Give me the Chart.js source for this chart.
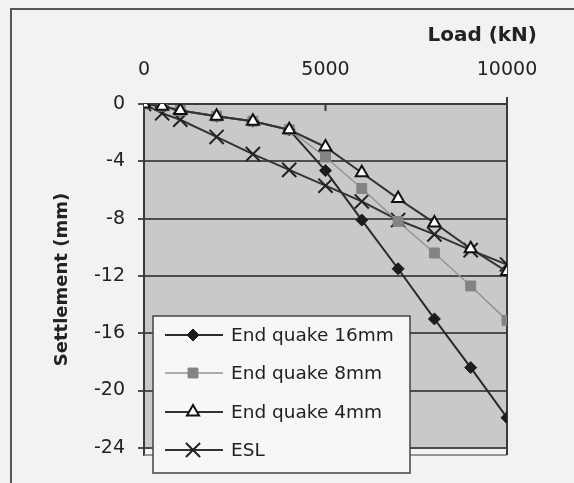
<!DOCTYPE html>
<html>
<head>
<meta charset="utf-8">
<script src="https://cdn.jsdelivr.net/npm/chart.js@4/dist/chart.umd.min.js"></script>
<style>
  body { margin: 0; background: #f2f2f2; }
  canvas { display: block; }
</style>
</head>
<body>
<canvas id="chart" width="574" height="483"></canvas>
<script>
// load (kN) on the top axis, settlement (mm) downwards
const loads = [0, 500, 1000, 2000, 3000, 4000, 5000, 6000, 7000, 8000, 9000, 10000];
const quake16 = [0, -0.15, -0.45, -0.85, -1.2, -1.8, -4.65, -8.1, -11.5, -15.0, -18.4, -21.9];
const quake8 = [0, -0.15, -0.45, -0.85, -1.2, -1.8, -3.7, -5.9, -8.2, -10.4, -12.7, -15.1];
const quake4 = [0, -0.15, -0.45, -0.85, -1.2, -1.8, -3.0, -4.8, -6.6, -8.3, -10.1, -11.7];
const esl = [0, -0.65, -1.1, -2.3, -3.5, -4.6, -5.7, -6.8, -8.1, -9.1, -10.2, -11.2];

const xTicks = [0, 5000, 10000];
const yTicks = [0, -4, -8, -12, -16, -20, -24];

const FONT = "'DejaVu Sans', 'Liberation Sans', sans-serif";
const INK = "#222";

function points(arr) {
    return loads.map((x, i) => ({ x: x, y: arr[i] }));
}

// paper, frame and grey plot area
const backdrop = {
    id: "backdrop",
    beforeDraw(chart) {
        const { ctx, chartArea: a, scales } = chart;
        ctx.save();
        ctx.fillStyle = "#f2f2f2";
        ctx.fillRect(0, 0, chart.width, chart.height);

        ctx.strokeStyle = "#555";
        ctx.lineWidth = 2;
        ctx.beginPath();
        ctx.moveTo(11, chart.height + 2);
        ctx.lineTo(11, 9);
        ctx.lineTo(chart.width + 2, 9);
        ctx.stroke();

        const yBottomFill = scales.y.getPixelForValue(-24);
        ctx.fillStyle = "#c9c9c9";
        ctx.fillRect(a.left, a.top, a.right - a.left, yBottomFill - a.top);
        ctx.restore();
    },
    beforeDatasetsDraw(chart) {
        const { ctx, chartArea: a, scales } = chart;
        ctx.save();
        ctx.strokeStyle = "#777";
        ctx.lineWidth = 1.5;
        ctx.beginPath();
        ctx.moveTo(a.left, a.bottom);
        ctx.lineTo(a.right, a.bottom);
        ctx.stroke();

        ctx.strokeStyle = "#3a3a3a";
        ctx.lineWidth = 2;
        ctx.beginPath();
        ctx.moveTo(a.right, a.top - 7);
        ctx.lineTo(a.right, a.bottom);
        const x5 = scales.x.getPixelForValue(5000);
        ctx.moveTo(x5, a.top);
        ctx.lineTo(x5, a.top + 7);
        ctx.stroke();
        ctx.restore();
    }
};

// boxed legend sitting over the lower left of the plot, plus the load title
const boxLegend = {
    id: "boxLegend",
    afterDraw(chart) {
        const { ctx } = chart;
        ctx.save();
        ctx.fillStyle = "#f7f7f7";
        ctx.fillRect(153, 316, 257, 157);
        ctx.strokeStyle = "#444";
        ctx.lineWidth = 1.5;
        ctx.strokeRect(153, 316, 257, 157);

        const rows = [335, 373, 412, 450];
        chart.data.datasets.forEach((ds, i) => {
            const y = rows[i];
            ctx.strokeStyle = ds.borderColor;
            ctx.lineWidth = ds.borderWidth;
            ctx.beginPath();
            ctx.moveTo(165, y);
            ctx.lineTo(223, y);
            ctx.stroke();

            ctx.fillStyle = ds.pointBackgroundColor;
            ctx.strokeStyle = ds.pointBorderColor;
            ctx.lineWidth = ds.pointBorderWidth;
            Chart.helpers.drawPoint(ctx, {
                pointStyle: ds.pointStyle,
                radius: ds.pointRadius,
                borderWidth: ds.pointBorderWidth,
                rotation: 0
            }, 193, y);

            ctx.fillStyle = INK;
            ctx.font = "18.5px " + FONT;
            ctx.textAlign = "left";
            ctx.textBaseline = "middle";
            ctx.fillText(ds.label, 231, y + 1);
        });

        ctx.font = "bold 20px " + FONT;
        ctx.textAlign = "right";
        ctx.textBaseline = "middle";
        ctx.fillStyle = INK;
        ctx.fillText("Load (kN)", 537, 36);
        ctx.restore();
    }
};

new Chart(document.getElementById("chart"), {
    type: "line",
    data: {
        datasets: [
            {
                label: "End quake 16mm",
                data: points(quake16),
                borderColor: "#2a2a2a",
                borderWidth: 2,
                pointStyle: "rectRot",
                pointRadius: 6,
                pointBackgroundColor: "#1c1c1c",
                pointBorderColor: "#1c1c1c",
                pointBorderWidth: 1,
                order: 3
            },
            {
                label: "End quake 8mm",
                data: points(quake8),
                borderColor: "#939393",
                borderWidth: 1.5,
                pointStyle: "rect",
                pointRadius: 7,
                pointBackgroundColor: "#838383",
                pointBorderColor: "#838383",
                pointBorderWidth: 1,
                order: 2
            },
            {
                label: "End quake 4mm",
                data: points(quake4),
                borderColor: "#333",
                borderWidth: 2,
                pointStyle: "triangle",
                pointRadius: 7,
                pointBackgroundColor: "#ffffff",
                pointBorderColor: "#111",
                pointBorderWidth: 2,
                order: 1
            },
            {
                label: "ESL",
                data: points(esl),
                borderColor: "#333",
                borderWidth: 2,
                pointStyle: "crossRot",
                pointRadius: 10,
                pointBackgroundColor: "#222",
                pointBorderColor: "#222",
                pointBorderWidth: 2,
                order: 4
            }
        ]
    },
    options: {
        responsive: false,
        animation: false,
        layout: { padding: { left: 11, top: 9, right: 67, bottom: 28 } },
        plugins: {
            legend: { display: false },
            tooltip: { enabled: false }
        },
        scales: {
            x: {
                type: "linear",
                position: "top",
                min: 0,
                max: 10000,
                afterBuildTicks: s => { s.ticks = xTicks.map(v => ({ value: v })); },
                afterFit: s => { s.height = 95; },
                ticks: {
                    font: { family: FONT, size: 19 },
                    color: INK,
                    padding: 23,
                    maxRotation: 0,
                    callback: v => String(v)
                },
                grid: { display: false, drawTicks: false },
                border: { display: true, color: "#3a3a3a", width: 2 }
            },
            y: {
                min: -24.5,
                max: 0,
                afterBuildTicks: s => { s.ticks = yTicks.map(v => ({ value: v })); },
                afterFit: s => { s.width = 133; },
                ticks: {
                    font: { family: FONT, size: 19 },
                    color: INK,
                    padding: 13,
                    callback: v => String(v)
                },
                grid: { color: "#4d4d4d", lineWidth: 2, tickLength: 6 },
                border: { display: true, color: "#3a3a3a", width: 2 },
                title: {
                    display: true,
                    text: "Settlement (mm)",
                    color: INK,
                    font: { family: FONT, size: 18, weight: "bold" },
                    padding: { top: 41, bottom: 0 }
                }
            }
        }
    },
    plugins: [backdrop, boxLegend]
});
</script>
</body>
</html>
